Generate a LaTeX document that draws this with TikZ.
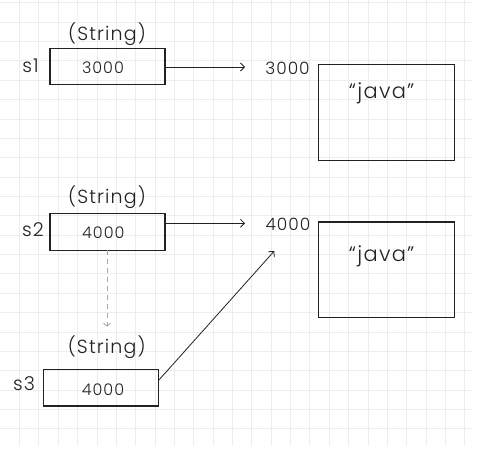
\documentclass[tikz,border=0pt]{standalone}
\usepackage{fontspec}
\setmainfont{Poppins}[UprightFont=* Light, LetterSpace=6]
\usetikzlibrary{arrows.meta}
\definecolor{gridc}{HTML}{EDEDED}
\definecolor{ink}{HTML}{222222}
\tikzset{
  membox/.style={draw=ink, line width=1.3pt, inner sep=0pt, rectangle},
  txt/.style={inner sep=0pt, text=ink, font=\fontsize{19}{19}\selectfont},
  valtxt/.style={inner sep=0pt, text=ink, font=\fontsize{16}{16}\selectfont},
  ptr/.style={draw=ink, line width=0.8pt, -{Straight Barb[length=4pt,width=8pt]}},
  dashptr/.style={draw=gray!70, line width=0.8pt, dash pattern=on 5pt off 4pt, -{Straight Barb[length=3pt,width=7pt]}}
}
\begin{document}
\begin{tikzpicture}[x=1pt,y=-1pt]
\useasboundingbox (0,0) rectangle (489,449);
\fill[white] (0,0) rectangle (489,449);
% grid
\foreach \i in {1,...,24} {\draw[gridc, line width=0.6pt] (19.36*\i,0) -- (19.36*\i,445.7);}
\foreach \j in {0,...,22} {\draw[gridc, line width=0.6pt] (0,2.7+19.36*\j) -- (471.7,2.7+19.36*\j);}
% reference boxes
\node[membox, minimum width=115pt, minimum height=36pt] (b1) at (107.5,66.2) {};
\node[membox, minimum width=115pt, minimum height=36.6pt] (b2) at (107.5,232) {};
\node[membox, minimum width=115pt, minimum height=36.3pt] (b3) at (100.8,387.9) {};
% heap boxes
\node[membox, minimum width=136.4pt, minimum height=96.4pt] (h1) at (386.5,112.5) {};
\node[membox, minimum width=136.4pt, minimum height=95.3pt] (h2) at (386.5,269.7) {};
% labels
\node[txt] (t1) at (107,34) {(String)};
\node[txt] (t2) at (107,197) {(String)};
\node[txt] (t3) at (106.7,347.3) {(String)};
\node[txt] (n1) at (30.5,65.7) {s1};
\node[txt] (n2) at (33,229.3) {s2};
\node[txt] (n3) at (24,384) {s3};
\node[valtxt] (v1) at (103,68) {3000};
\node[valtxt] (v2) at (103.3,233) {4000};
\node[valtxt] (v3) at (103,390) {4000};
\node[valtxt, font=\fontsize{17}{17}\selectfont] (a1) at (287.5,68) {3000};
\node[valtxt, font=\fontsize{17}{17}\selectfont] (a2) at (288,224) {4000};
\node[txt, font=\fontsize{21}{21}\selectfont] (j1) at (381.7,93) {“java”};
\node[txt, font=\fontsize{21}{21}\selectfont] (j2) at (381.7,256.7) {“java”};
% pointers
\coordinate (e1) at (245,67);
\coordinate (e2) at (245,223.3);
\coordinate (e3) at (274.3,251);
\coordinate (d1) at (107,250.3);
\coordinate (d2) at (107,326.7);
\draw[ptr] (b1.east |- e1) -- (e1);
\draw[ptr] (b2.east |- e2) -- (e2);
\draw[ptr] ([yshift=7.9pt]b3.east) -- (e3);
\draw[dashptr] (d1) -- (d2);
\end{tikzpicture}
\end{document}
